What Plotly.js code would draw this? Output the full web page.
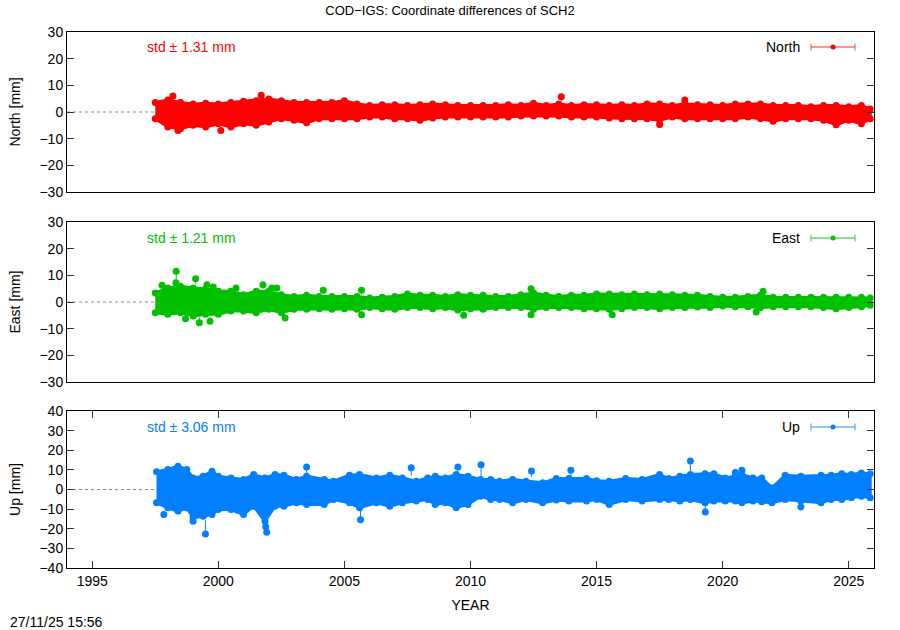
<!DOCTYPE html>
<html><head><meta charset="utf-8">
<script src="https://cdn.plot.ly/plotly-3.0.1.min.js"></script>
<style>html,body{margin:0;padding:0;background:#fff}#chart{width:900px;height:630px}</style>
</head><body><div id="chart"></div>
<script>
// ---------- data ----------
const neYears = [1997.5,1998.0,1998.5,1999.0,1999.5,2000.0,2000.5,2001.0,2001.5,2002.0,2002.5,2003.0,2003.5,2004.0,2004.5,2005.0,2005.5,2006.0,2006.5,2007.0,2007.5,2008.0,2008.5,2009.0,2009.5,2010.0,2010.5,2011.0,2011.5,2012.0,2012.5,2013.0,2013.5,2014.0,2014.5,2015.0,2015.5,2016.0,2016.5,2017.0,2017.5,2018.0,2018.5,2019.0,2019.5,2020.0,2020.5,2021.0,2021.5,2022.0,2022.5,2023.0,2023.5,2024.0,2024.5,2025.0,2025.5,2025.85];

const northHi = [3.6,4.5,3.6,3.0,3.25,3.0,3.6,4.0,4.25,4.9,4.25,3.6,3.6,3.6,3.6,4.25,3.0,2.4,2.75,2.75,2.4,2.75,3.0,2.75,2.4,2.4,2.4,2.4,2.75,2.4,3.25,2.4,3.0,2.4,2.75,2.75,2.4,2.75,2.4,3.0,3.0,2.4,3.0,2.75,2.75,2.4,3.0,3.0,3.0,2.4,2.4,2.4,2.0,2.4,2.4,2.0,2.4,1.1];
const northLo = [-2.5,-5.6,-6.25,-5.0,-5.6,-4.4,-5.6,-4.4,-5.0,-3.75,-2.5,-3.1,-4.0,-2.5,-2.5,-2.5,-2.5,-1.9,-1.9,-2.5,-2.5,-3.1,-2.25,-1.9,-1.9,-1.9,-1.9,-1.9,-1.9,-1.5,-1.5,-1.5,-1.5,-1.9,-1.9,-1.9,-2.25,-2.5,-2.5,-2.5,-3.1,-1.9,-2.5,-2.5,-2.5,-2.5,-2.5,-1.9,-2.5,-3.5,-2.5,-2.5,-2.5,-3.1,-4.75,-3.1,-4.4,-2.5];
const northSpikeYears = [1998.2,2001.7,2013.6,2018.5,1998.4,2000.1,2017.5];
const northSpikeVals  = [6.0,6.3,5.7,4.5,-6.9,-6.9,-4.7];
const northSpikeErr   = [1.5,1.5,1.5,1.0,1.0,1.0,1.5];

const eastHi = [3.4,5.25,5.9,5.25,5.0,4.0,4.0,2.75,4.0,4.0,2.75,2.1,2.5,2.1,2.1,2.1,2.1,1.5,1.75,2.1,3.0,2.5,2.5,2.1,2.75,2.5,2.5,2.1,2.1,2.75,3.4,2.5,2.1,2.5,2.5,3.0,3.0,2.75,3.0,2.75,3.0,2.75,2.5,2.5,2.1,1.75,1.75,2.1,2.5,1.75,1.75,1.75,1.75,1.75,1.75,1.75,1.75,1.5];
const eastLo = [-4.0,-4.6,-4.0,-5.25,-4.6,-4.6,-3.4,-3.4,-4.0,-2.75,-4.0,-2.75,-2.75,-2.5,-2.75,-2.5,-2.75,-2.1,-2.5,-2.75,-2.1,-2.1,-2.5,-2.1,-3.0,-2.5,-2.75,-2.1,-2.1,-2.1,-2.75,-2.1,-2.1,-2.1,-2.5,-2.5,-2.75,-2.5,-2.1,-2.1,-2.5,-2.1,-2.1,-1.9,-2.1,-1.5,-1.75,-1.75,-2.1,-1.75,-1.75,-1.75,-1.75,-2.1,-2.5,-2.1,-1.75,-1.25];
const eastSpikeYears = [1997.77,1998.32,1998.33,1999.1,1999.55,1999.8,2000.7,2001.77,2002.13,2002.32,2004.16,2005.68,2012.4,2021.6,1998.7,1999.25,1999.67,2002.65,2005.68,2009.73,2012.4,2015.62,2021.33];
const eastSpikeVals  = [6.25,7.25,11.5,8.75,6.5,5.6,5.25,6.5,5.25,5.25,4.4,4.4,5.0,4.0,-6.25,-7.75,-7.25,-6.0,-4.75,-5.0,-4.75,-4.75,-3.75];
const eastSpikeErr   = [1,1,4,2,1,1,1,1.5,1,1,1.5,1.5,1.5,1.5,1,2,1.5,1.5,1.5,1.5,1.5,1.5,1];

const upYears = [1997.55,1998.0,1998.4,1998.75,1999.0,1999.4,1999.75,2000.0,2000.5,2001.0,2001.4,2001.85,2002.25,2002.6,2003.1,2003.5,2004.2,2004.56,2005.2,2005.6,2006.27,2006.8,2007.3,2007.85,2008.3,2008.6,2009.0,2009.43,2009.9,2010.4,2010.8,2011.15,2011.67,2012.2,2012.86,2013.4,2013.9,2014.6,2015.0,2015.5,2016.15,2016.8,2017.5,2017.86,2018.3,2018.72,2019.3,2019.65,2020.1,2020.5,2020.76,2021.2,2021.55,2021.95,2022.48,2023.1,2023.9,2024.3,2024.72,2025.1,2025.5,2025.85];
const upHi = [9.0,10.2,11.9,10.2,5.9,6.8,9.3,6.8,5.9,5.1,7.6,5.9,7.6,7.3,5.1,6.8,5.1,4.2,7.3,7.6,5.9,7.3,5.9,4.2,5.9,6.8,5.9,7.6,6.8,5.1,5.1,4.2,5.1,4.2,3.4,5.6,5.6,5.6,4.5,4.2,5.6,5.1,7.6,5.6,6.8,7.6,8.0,8.0,5.9,6.8,7.6,5.9,5.9,0.8,7.3,6.8,7.3,7.3,8.0,7.6,8.4,8.0];
const upLo = [-6.8,-9.3,-11.0,-9.3,-14.4,-13.6,-12.7,-10.2,-10.2,-12.7,-8.5,-16.1,-8.5,-8.5,-6.8,-7.6,-7.6,-5.1,-6.8,-9.3,-6.8,-8.5,-6.8,-5.9,-5.1,-7.6,-6.8,-9.3,-7.6,-3.4,-5.1,-5.1,-6.8,-5.1,-6.8,-5.4,-5.9,-5.9,-5.1,-7.6,-5.1,-5.9,-5.1,-5.1,-5.9,-5.1,-6.8,-5.9,-5.9,-5.9,-6.8,-5.9,-6.3,-6.8,-5.1,-5.9,-6.8,-5.1,-5.1,-4.2,-3.4,-4.2];
const upSpikeYears = [1997.84,1999.0,1999.49,2001.88,2001.92,2003.5,2005.64,2007.65,2009.5,2010.42,2012.42,2013.98,2018.72,2019.31,2020.5,2020.76,2023.1];
const upSpikeVals  = [-12.8,-16.2,-22.7,-19.0,-21.8,11.5,-15.4,11.1,11.5,12.6,9.4,9.8,14.5,-11.5,8.6,9.8,-8.9];
const upSpikeErr   = [2,2,7,3,3,4,6,4,3,7,3,3,6,4,2,2,2];

const seriesNames = ['North','East','Up'];
const seriesStd = ['1.31','1.21','3.06'];
const xTickVals = [1995,2000,2005,2010,2015,2020,2025];
const stamp = '27/11/25 15:56';

// ---------- styling ----------
var colors = ['#ff0000','#00c000','#0080ff'];
var lightColors = ['rgba(255,0,0,0.55)','rgba(0,192,0,0.6)','rgba(0,128,255,0.6)'];
var FONT = 'Liberation Sans, Arial, Helvetica, sans-serif';
var axesX = ['x2','x3','x'];
var axesY = ['y','y2','y3'];

function bandTraces(years, hi, lo, sx, sy, se, i) {
  var xa = axesX[i], ya = axesY[i];
  var c = colors[i];
  var polyX = years.concat(years.slice().reverse());
  var polyY = hi.concat(lo.slice().reverse());
  var errPlus = sy.map(function(v, k) { return v > 0 ? 0 : se[k]; });
  var errMinus = sy.map(function(v, k) { return v > 0 ? se[k] : 0; });
  return [
    {type: 'scatter', x: polyX, y: polyY, xaxis: xa, yaxis: ya, mode: 'lines', fill: 'toself',
     fillcolor: c, line: {color: c, width: 3}, hoverinfo: 'skip', showlegend: false},
    {type: 'scatter', x: years, y: hi, xaxis: xa, yaxis: ya, mode: 'markers',
     marker: {color: c, size: 7}, showlegend: false},
    {type: 'scatter', x: years, y: lo, xaxis: xa, yaxis: ya, mode: 'markers',
     marker: {color: c, size: 7}, showlegend: false},
    {type: 'scatter', x: sx, y: sy, xaxis: xa, yaxis: ya, mode: 'markers',
     marker: {color: c, size: 7},
     error_y: {type: 'data', symmetric: false, array: errPlus, arrayminus: errMinus,
               color: c, thickness: 1, width: 0},
     showlegend: false}
  ];
}

var data = [].concat(
  bandTraces(neYears, northHi, northLo, northSpikeYears, northSpikeVals, northSpikeErr, 0),
  bandTraces(neYears, eastHi, eastLo, eastSpikeYears, eastSpikeVals, eastSpikeErr, 1),
  bandTraces(upYears, upHi, upLo, upSpikeYears, upSpikeVals, upSpikeErr, 2)
);

var L = 67, R = 874, T = 32, B = 568, W = 900, H = 630;
function px(v) { return (v - L) / (R - L); }
function py(v) { return (B - v) / (B - T); }

function ax(extra) {
  var o = {showline: true, linecolor: '#000', linewidth: 1, mirror: 'ticks',
    ticks: 'inside', ticklen: 7, tickcolor: '#333', showgrid: false, zeroline: false,
    tickfont: {family: FONT, size: 14, color: '#000'}};
  for (var k in extra) o[k] = extra[k];
  return o;
}
function yTitle(t) { return {text: t, font: {family: FONT, size: 14, color: '#000'}, standoff: 15}; }

var layout = {
  width: W, height: H,
  margin: {l: L, r: W - R, t: T, b: H - B},
  paper_bgcolor: '#fff', plot_bgcolor: '#fff',
  font: {family: FONT, size: 14, color: '#000'},
  showlegend: false,
  title: {text: 'COD\u2212IGS: Coordinate differences of SCH2', font: {family: FONT, size: 13, color: '#000'},
          x: 0.5, xanchor: 'center', y: 1 - 10 / H, yanchor: 'middle'},
  xaxis: ax({anchor: 'y3', domain: [0, 1], range: [1994, 2026],
          tickvals: xTickVals,
          title: {text: 'YEAR', font: {family: FONT, size: 14, color: '#000'}, standoff: 12}}),
  xaxis2: ax({anchor: 'y', domain: [0, 1], range: [1994, 2026],
          ticks: '', showticklabels: false, mirror: true}),
  xaxis3: ax({anchor: 'y2', domain: [0, 1], range: [1994, 2026],
          ticks: '', showticklabels: false, mirror: true}),
  yaxis: ax({anchor: 'x2', domain: [py(192), 1], range: [-30, 30], dtick: 10,
          title: yTitle('North [mm]')}),
  yaxis2: ax({anchor: 'x3', domain: [py(382), py(222)], range: [-30, 30], dtick: 10,
          title: yTitle('East [mm]')}),
  yaxis3: ax({anchor: 'x', domain: [0, py(411)], range: [-40, 40], dtick: 10,
          title: yTitle('Up [mm]')}),
  shapes: [],
  annotations: []
};

// zero reference dotted lines
axesY.forEach(function(ya, i) {
  layout.shapes.push({type: 'line', layer: 'below', xref: axesX[i], x0: 1994, x1: 2026, yref: ya, y0: 0, y1: 0,
    line: {color: '#888', width: 1, dash: 'dot'}});
});

// legend keys and std labels
var keyY = [47, 238, 427];
seriesNames.forEach(function(name, i) {
  var yy = py(keyY[i]);
  var cap = 3.5 / (B - T);
  layout.annotations.push({xref: 'paper', yref: 'paper', x: px(802), y: yy, xanchor: 'right', yanchor: 'middle',
    text: name, showarrow: false, font: {family: FONT, size: 14, color: '#000'}});
  layout.annotations.push({xref: 'paper', yref: 'paper', x: px(145), y: yy, xanchor: 'left', yanchor: 'middle',
    text: 'std \u00b1 ' + seriesStd[i] + ' mm', showarrow: false, font: {family: FONT, size: 14, color: colors[i]}});
  layout.shapes.push({type: 'line', xref: 'paper', yref: 'paper', x0: px(811), x1: px(855), y0: yy, y1: yy,
    line: {color: lightColors[i], width: 1.3}});
  layout.shapes.push({type: 'line', xref: 'paper', yref: 'paper', x0: px(811), x1: px(811), y0: yy - cap, y1: yy + cap,
    line: {color: lightColors[i], width: 1.3}});
  layout.shapes.push({type: 'line', xref: 'paper', yref: 'paper', x0: px(855), x1: px(855), y0: yy - cap, y1: yy + cap,
    line: {color: lightColors[i], width: 1.3}});
  layout.shapes.push({type: 'circle', xref: 'paper', yref: 'paper', x0: px(830.5), x1: px(835.5),
    y0: yy - 2.5 / (B - T), y1: yy + 2.5 / (B - T), fillcolor: colors[i], line: {color: colors[i], width: 0}});
});

layout.annotations.push({xref: 'paper', yref: 'paper', x: px(8), y: py(622), xanchor: 'left', yanchor: 'middle',
  text: stamp, showarrow: false, font: {family: FONT, size: 14, color: '#000'}});

Plotly.newPlot('chart', data, layout, {staticPlot: true, displayModeBar: false});
</script>
</body></html>
